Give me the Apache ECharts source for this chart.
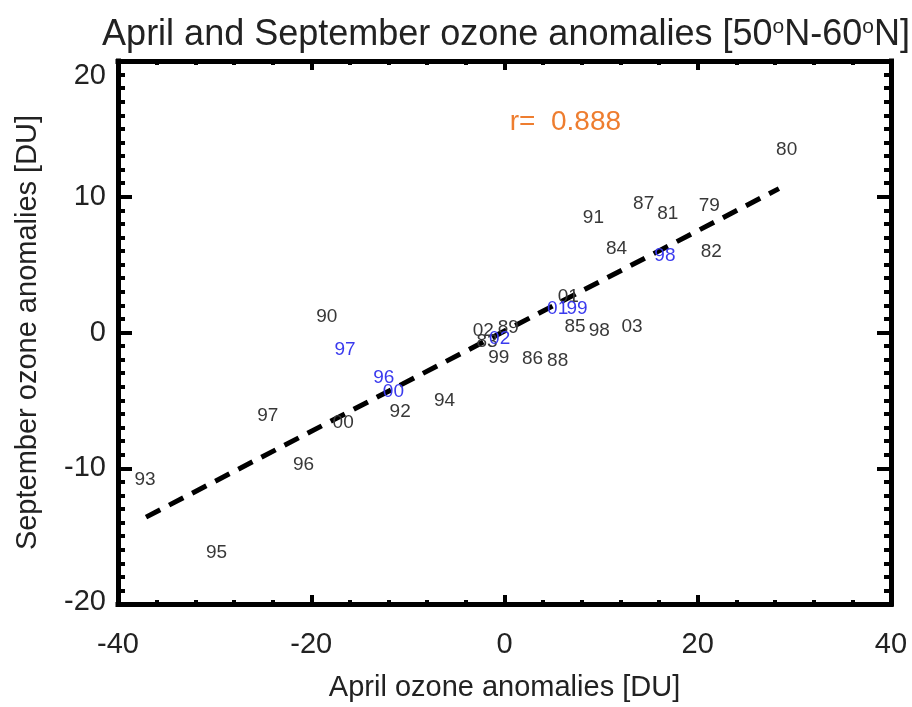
<!DOCTYPE html>
<html>
<head>
<meta charset="utf-8">
<script src="https://cdn.jsdelivr.net/npm/echarts@6/dist/echarts.min.js"></script>
<style>
  html, body { margin: 0; padding: 0; background: #fff; }
  #chart { width: 912px; height: 707px; }
</style>
</head>
<body>
<div id="chart"></div>
<script>
// years 1979-2003 (black labels)
const years = ['79', '80', '81', '82', '83', '84', '85', '86', '87', '88', '89', '90', '91',
  '92', '93', '94', '95', '96', '97', '98', '99', '00', '01', '02', '03']
const aprilAnom = [21.2, 29.2, 16.9, 21.4, -1.8, 11.6, 7.3, 2.9, 14.4, 5.5, 0.4, -18.4, 9.2,
  -10.8, -37.2, -6.2, -29.8, -20.8, -24.5, 9.8, -0.6, -16.7, 6.6, -2.2, 13.2]
const septAnom = [9.5, 13.6, 8.9, 6.1, -0.5, 6.3, 0.6, -1.8, 9.6, -1.9, 0.5, 1.3, 8.6,
  -5.7, -10.7, -4.9, -16.1, -9.6, -6.0, 0.3, -1.7, -6.5, 2.8, 0.3, 0.6]

// second set (blue labels)
const blueYears = ['96', '97', '98', '99', '00', '01', '02']
const blueApril = [-12.5, -16.5, 16.6, 7.5, -11.5, 5.5, -0.5]
const blueSept = [-3.2, -1.1, 5.8, 1.9, -4.2, 1.9, -0.3]

// regression line endpoints and correlation
const fitLine = [[-37.1, -13.6], [28.4, 10.6]]
const rText = 'r=  0.888'
const rAt = [6.3, 15.6]

const xTicks = { min: -40, max: 40, interval: 20 }
const yTicks = { min: -20, max: 20, interval: 10 }

const font = 'Liberation Sans, Arial, Helvetica, sans-serif'

const chart = echarts.init(document.getElementById('chart'))

function pts(xs, ys, names) {
  return xs.map((x, i) => ({ value: [x, ys[i]], name: names[i] }))
}

function labelSeries(data, color, size) {
  return {
    type: 'scatter',
    data: data,
    symbolSize: 1,
    itemStyle: { color: 'rgba(0,0,0,0)', opacity: 1 },
    label: {
      show: true,
      position: 'inside',
      offset: [0, 2],
      formatter: '{b}',
      color: color,
      fontSize: size,
      fontFamily: font
    },
    emphasis: { disabled: true },
    silent: true,
    z: 3
  }
}

const axisLine = { show: true, onZero: false, lineStyle: { color: '#000', width: 5, cap: 'square' } }

function xAxis(pos, showLabel) {
  return {
    type: 'value',
    position: pos,
    min: xTicks.min,
    max: xTicks.max,
    interval: xTicks.interval,
    axisLine: axisLine,
    axisTick: { show: true, inside: true, length: 9, lineStyle: { color: '#000', width: 4 } },
    minorTick: { show: true, splitNumber: 5, length: 4, lineStyle: { color: '#000', width: 4 } },
    splitLine: { show: false },
    axisLabel: { show: showLabel, color: '#222', fontSize: 29, fontFamily: font, margin: 26 },
    name: showLabel ? 'April ozone anomalies [DU]' : '',
    nameLocation: 'middle',
    nameGap: 69,
    nameTextStyle: { color: '#222', fontSize: 29, fontFamily: font }
  }
}

function yAxis(pos, showLabel) {
  return {
    type: 'value',
    position: pos,
    min: yTicks.min,
    max: yTicks.max,
    interval: yTicks.interval,
    axisLine: axisLine,
    axisTick: { show: true, inside: true, length: 14, lineStyle: { color: '#000', width: 4 } },
    minorTick: { show: true, splitNumber: 10, length: 7, lineStyle: { color: '#000', width: 4 } },
    splitLine: { show: false },
    axisLabel: {
      show: showLabel,
      color: '#222',
      fontSize: 29,
      fontFamily: font,
      margin: 12,
      // end labels sit just inside the box, as in the original
      formatter: v => v === yTicks.max ? '{t|' + v + '}' : v === yTicks.min ? '{b|' + v + '}' : String(v),
      rich: {
        t: { fontSize: 29, fontFamily: font, color: '#222', padding: [30, 0, 0, 0] },
        b: { fontSize: 29, fontFamily: font, color: '#222', padding: [0, 0, 5, 0] }
      }
    },
    name: showLabel ? 'September ozone anomalies [DU]' : '',
    nameLocation: 'middle',
    nameGap: 76,
    nameTextStyle: { color: '#222', fontSize: 29, fontFamily: font }
  }
}

chart.setOption({
  backgroundColor: '#fff',
  animation: false,
  title: {
    text: 'April and September ozone anomalies [50{sup|o}N-60{sup|o}N]',
    left: 501,
    textAlign: 'center',
    top: 12,
    textStyle: {
      color: '#222',
      fontSize: 36,
      fontWeight: 'normal',
      fontFamily: font,
      rich: {
        sup: { fontSize: 21, color: '#222', fontFamily: font, verticalAlign: 'top', lineHeight: 18 }
      }
    }
  },
  grid: { left: 118, right: 21, top: 61, bottom: 99 },
  xAxis: [xAxis('bottom', true), xAxis('top', false)],
  yAxis: [yAxis('left', true), yAxis('right', false)],
  series: [
    {
      type: 'line',
      data: fitLine,
      showSymbol: false,
      symbol: 'none',
      lineStyle: { color: '#000', width: 5, type: [16, 10] },
      silent: true,
      z: 2
    },
    labelSeries(pts(aprilAnom, septAnom, years), '#383838', 19),
    labelSeries(pts(blueApril, blueSept, blueYears), '#3a3aee', 19),
    labelSeries([{ value: rAt, name: rText }], '#ee7d2f', 28)
  ]
})
</script>
</body>
</html>
